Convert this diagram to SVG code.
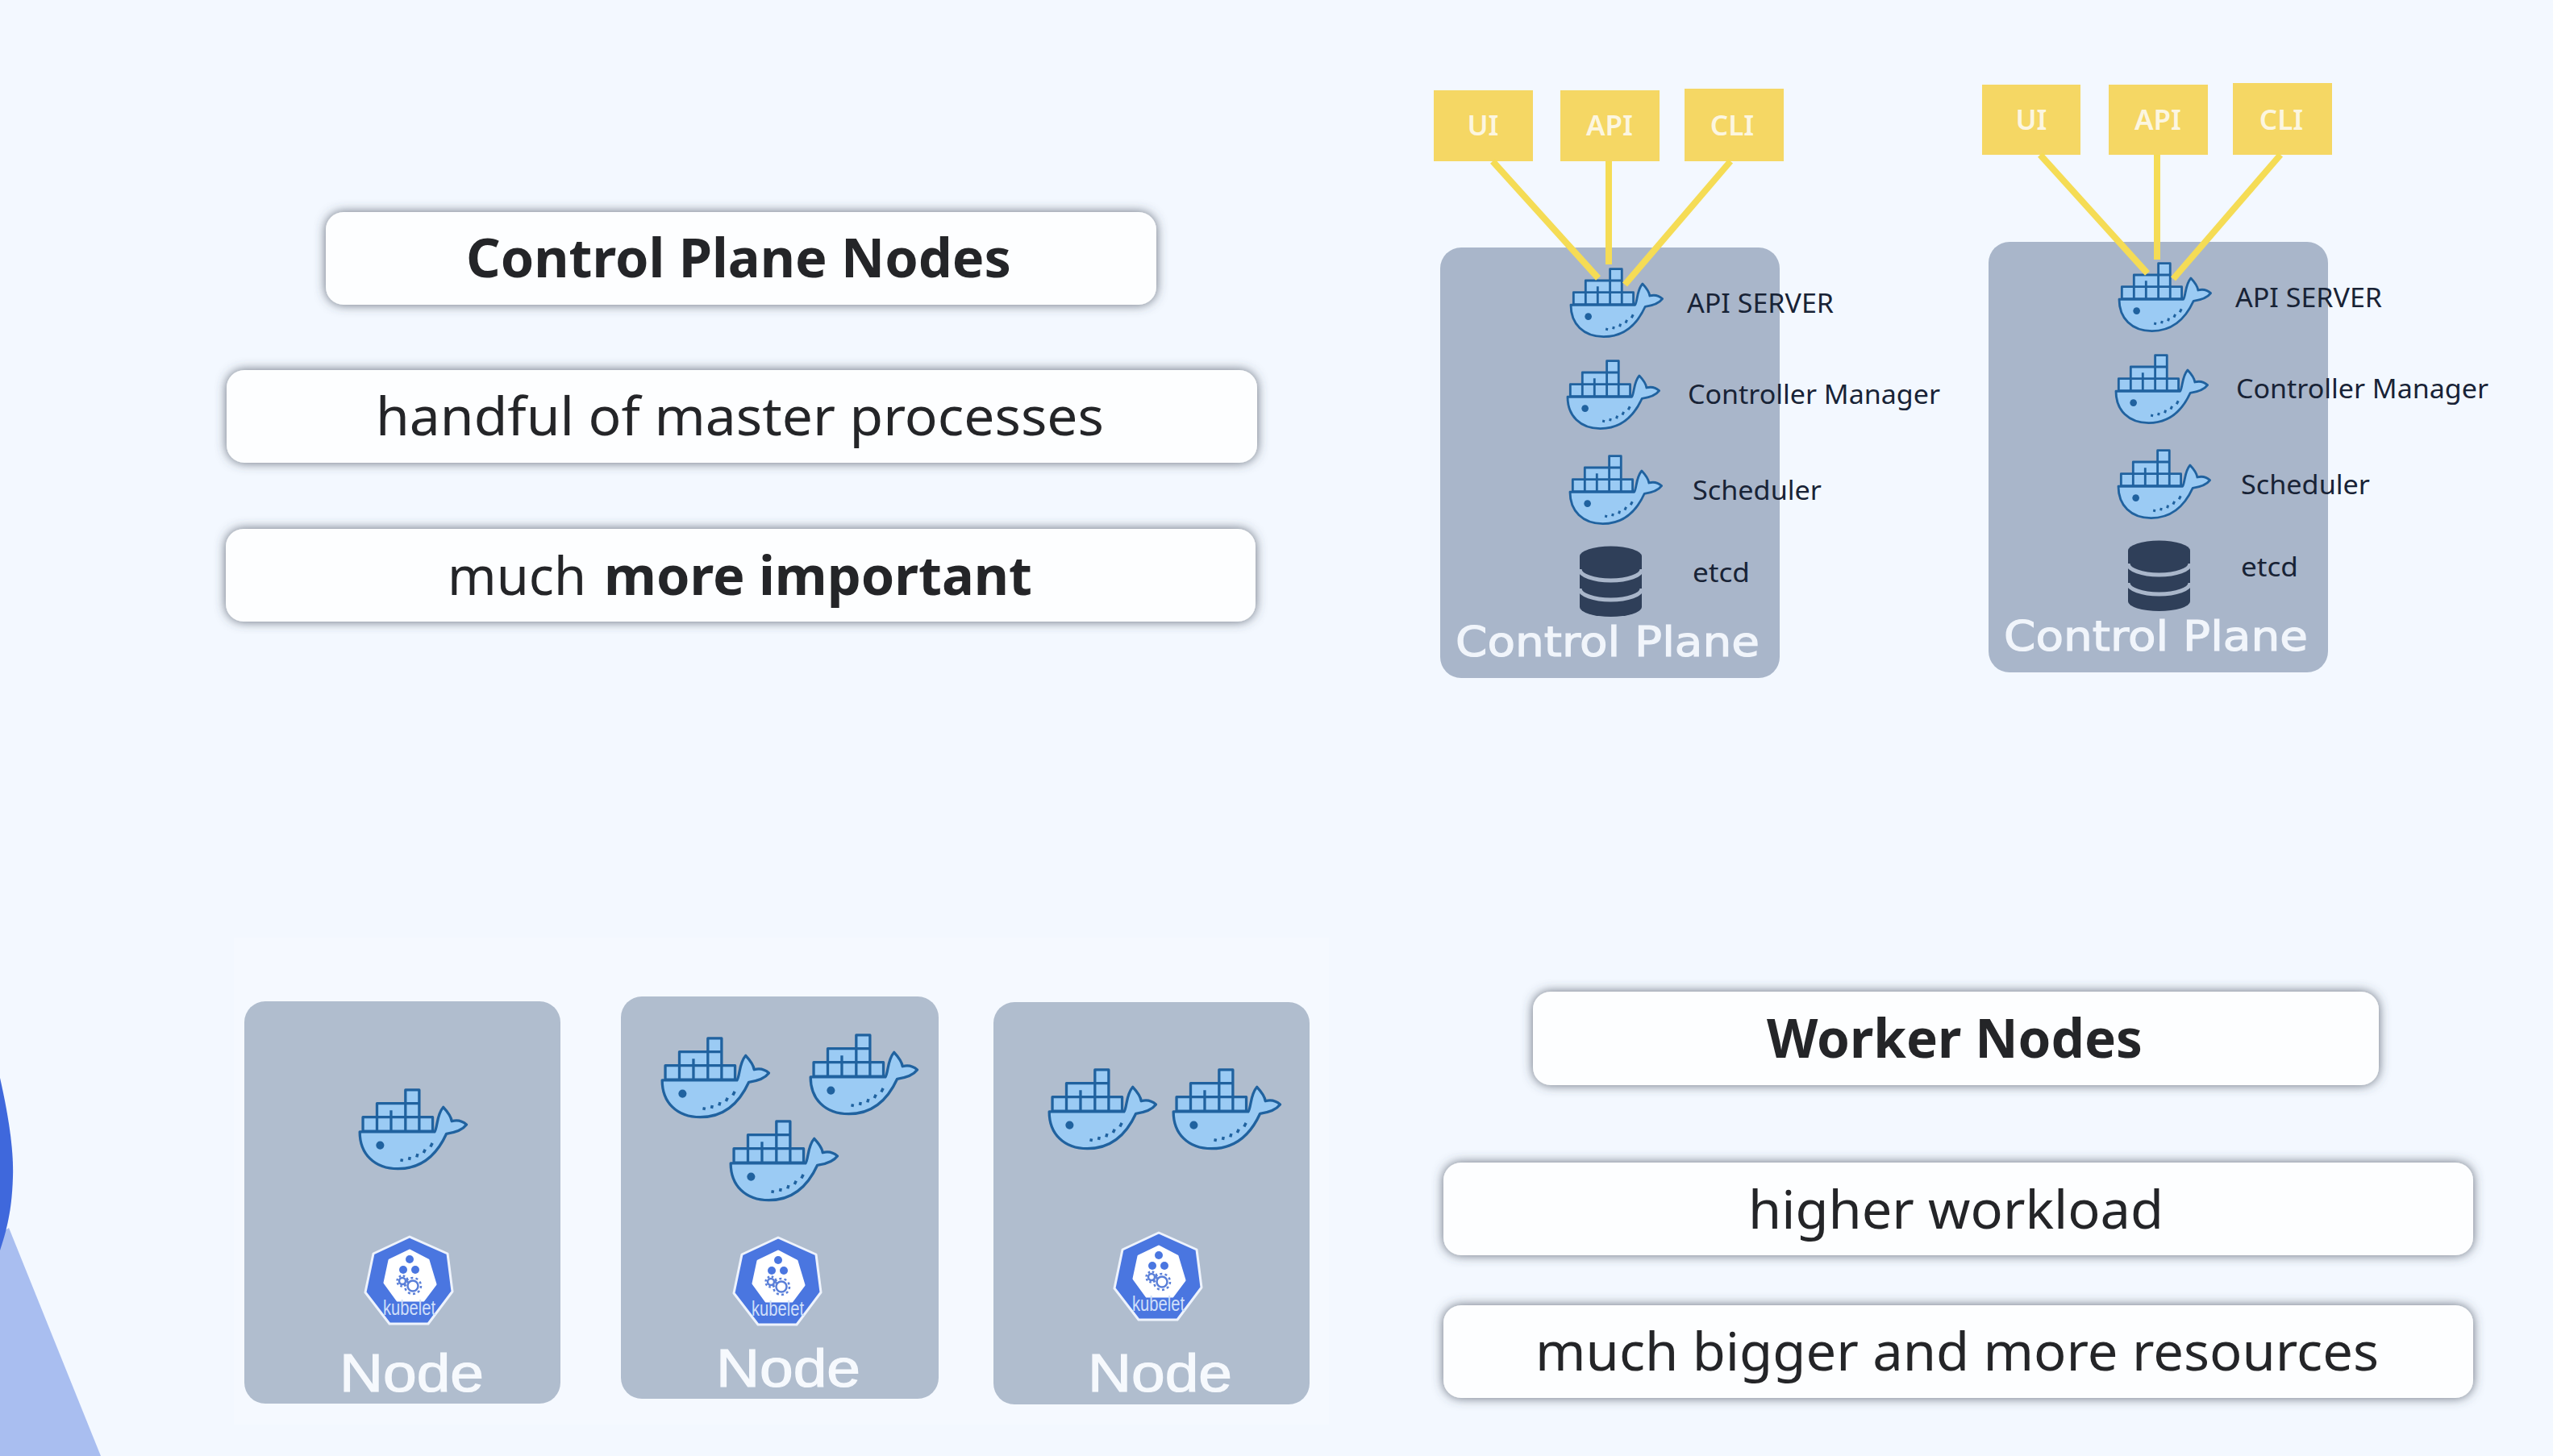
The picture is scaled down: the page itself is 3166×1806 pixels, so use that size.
<svg xmlns="http://www.w3.org/2000/svg" xmlns:xlink="http://www.w3.org/1999/xlink" width="3166" height="1806" viewBox="0 0 3166 1806">
<defs>
<style>
.box{fill:#fdfeff;filter:url(#sh)}
.t{font-family:"Noto Sans","Open Sans",sans-serif;fill:#242528;font-size:66px}
.b{font-weight:700}
.panel{fill:#a9b6ca}
.npanel{fill:#b0bdce}
.yb{fill:#f5d764}
.yt{font-family:"Noto Sans",sans-serif;font-weight:600;font-size:35px;fill:#fcf6e0;text-anchor:middle}
.lbl{font-family:"Noto Sans",sans-serif;font-size:33px;fill:#182336}
.cp{font-family:"DejaVu Sans",sans-serif;font-size:52px;fill:#f1f5fb;stroke:#f1f5fb;stroke-width:1.2}
.nd{font-family:"Liberation Sans",sans-serif;font-size:66px;fill:#f6f9fd;stroke:#f6f9fd;stroke-width:1.2}
.kt{font-family:"Liberation Sans",sans-serif;font-size:26px;fill:#cfdff9}
.c{stroke:#f5dc55;stroke-width:8;fill:none}
.wb{fill:#9bcbf4;stroke:#20629f;stroke-width:8.500;stroke-linejoin:round}
.db{fill:#2f3f59}
.gap{fill:none;stroke:#a9b6ca;stroke-width:5}
</style>
<filter id="sh" x="-5%" y="-30%" width="110%" height="160%"><feDropShadow dx="0" dy="0" stdDeviation="7" flood-color="#3f4656" flood-opacity=".8"/></filter>
<g id="whale">
<g transform="translate(-80,-65)">
<path class="wb" d="M93 157H316V202H93ZM138 113H273V157H138ZM229 70H273V113H229ZM138 157V202M183 135V202M229 113V202M273 157V202"/>
<path class="wb" d="M83 204H322C332 190 328 150 350 125C364 140 375 155 377 170C395 165 412 170 424 181C410 200 382 207 360 210C335 265 290 322 205 322C130 322 83 275 83 204Z"/>
<circle cx="148" cy="247" r="13" fill="#20629f"/>
<path d="M218 290l-2 9M243 284l-2 10M268 274l-3 11M292 260l-5 11M315 240l-6 12" stroke="#20629f" stroke-width="9" fill="none"/>
</g>
</g>
<g id="kube">
<path d="M0 0L47 21L53 68L23 108H-25L-55 69L-45 21Z" fill="#4a76e0" stroke="#eef3fc" stroke-width="3" stroke-linejoin="round"/>
<path d="M0 17L23 29L32 59L17 79H-15L-31 57L-25 29Z" fill="#fff" stroke="#fff" stroke-width="3" stroke-linejoin="round"/>
<circle cx="0" cy="28" r="5" fill="#4a76e0"/><circle cx="-8" cy="41" r="5" fill="#4a76e0"/><circle cx="7" cy="41" r="5" fill="#4a76e0"/>
<circle cx="-9" cy="55" r="4" fill="none" stroke="#5a7fd8" stroke-width="2.500"/>
<circle cx="-9" cy="55" r="6.500" fill="none" stroke="#5a7fd8" stroke-width="2.500" stroke-dasharray="2.500 2.600"/>
<circle cx="4" cy="61" r="6.500" fill="none" stroke="#5a7fd8" stroke-width="2.500"/>
<circle cx="4" cy="61" r="10" fill="none" stroke="#5a7fd8" stroke-width="2.500" stroke-dasharray="3 3.300"/>
</g>
<g id="dbi">
<path class="db" d="M0 12A38.500 12.500 0 0 1 77 12V75A38.500 12 0 0 1 0 75Z"/>
<path class="gap" d="M0 28A38.500 14 0 0 0 77 28M0 52A38.500 14 0 0 0 77 52"/>
</g>
</defs>
<rect width="3166" height="1806" fill="#f3f8ff"/>
<g id="backdrop">
<path d="M0 1530L11 1523L125 1806H0Z" fill="#a9bef0"/>
<path d="M0 1337C12 1390 17 1430 16 1460C15 1490 12 1515 0 1551Z" fill="#3f68dc"/>
<rect x="290" y="1163" width="1358" height="604" fill="#f5f9ff"/>
</g>

<g id="box-control-plane-nodes"><rect class="box" x="404" y="263" width="1030" height="115" rx="22"/>
<text class="t b" x="578" y="344" textLength="676" lengthAdjust="spacingAndGlyphs">Control Plane Nodes</text></g>
<g id="box-handful"><rect class="box" x="281" y="459" width="1278" height="115" rx="22"/>
<text class="t" x="466" y="540" textLength="903" lengthAdjust="spacingAndGlyphs">handful of master processes</text></g>
<g id="box-important"><rect class="box" x="280" y="656" width="1277" height="115" rx="22"/>
<text class="t" y="738"><tspan x="555" textLength="172" lengthAdjust="spacingAndGlyphs">much</tspan> <tspan class="b" x="749" textLength="531" lengthAdjust="spacingAndGlyphs">more important</tspan></text></g>
<g id="box-worker-nodes"><rect class="box" x="1901" y="1230" width="1049" height="116" rx="22"/>
<text class="t b" x="2191" y="1312" textLength="466" lengthAdjust="spacingAndGlyphs">Worker Nodes</text></g>
<g id="box-higher-workload"><rect class="box" x="1790" y="1442" width="1277" height="115" rx="22"/>
<text class="t" x="2168" y="1524" textLength="515" lengthAdjust="spacingAndGlyphs">higher workload</text></g>
<g id="box-bigger"><rect class="box" x="1790" y="1619" width="1277" height="115" rx="22"/>
<text class="t" x="1904" y="1700" textLength="1046" lengthAdjust="spacingAndGlyphs">much bigger and more resources</text></g>

<g id="control-plane-1">
<rect class="panel" x="1786" y="307" width="421" height="534" rx="26"/>
<use xlink:href="#whale" href="#whale" transform="translate(1947,332) scale(.333)"/>
<use xlink:href="#whale" href="#whale" transform="translate(1943,446) scale(.333)"/>
<use xlink:href="#whale" href="#whale" transform="translate(1946,564) scale(.333)"/>
<use xlink:href="#dbi" href="#dbi" transform="translate(1959,678)"/>
<text class="lbl" x="2092" y="388" textLength="182" lengthAdjust="spacingAndGlyphs">API SERVER</text>
<text class="lbl" x="2093" y="501" textLength="313" lengthAdjust="spacingAndGlyphs">Controller Manager</text>
<text class="lbl" x="2099" y="620" textLength="160" lengthAdjust="spacingAndGlyphs">Scheduler</text>
<text class="lbl" x="2099" y="722" textLength="71" lengthAdjust="spacingAndGlyphs">etcd</text>
<text class="cp" x="1805" y="814" textLength="377" lengthAdjust="spacingAndGlyphs">Control Plane</text>
</g>
<g id="ui-1"><rect class="yb" x="1778" y="112" width="123" height="88"/><text class="yt" x="1839" y="168">UI</text></g>
<g id="api-1"><rect class="yb" x="1935" y="112" width="123" height="88"/><text class="yt" x="1996" y="168">API</text></g>
<g id="cli-1"><rect class="yb" x="2089" y="110" width="123" height="90"/><text class="yt" x="2148" y="168">CLI</text></g>

<g id="control-plane-2">
<rect class="panel" x="2466" y="300" width="421" height="534" rx="26"/>
<use xlink:href="#whale" href="#whale" transform="translate(2627,325) scale(.333)"/>
<use xlink:href="#whale" href="#whale" transform="translate(2623,439) scale(.333)"/>
<use xlink:href="#whale" href="#whale" transform="translate(2626,557) scale(.333)"/>
<use xlink:href="#dbi" href="#dbi" transform="translate(2639,671)"/>
<text class="lbl" x="2772" y="381" textLength="182" lengthAdjust="spacingAndGlyphs">API SERVER</text>
<text class="lbl" x="2773" y="494" textLength="313" lengthAdjust="spacingAndGlyphs">Controller Manager</text>
<text class="lbl" x="2779" y="613" textLength="160" lengthAdjust="spacingAndGlyphs">Scheduler</text>
<text class="lbl" x="2779" y="715" textLength="71" lengthAdjust="spacingAndGlyphs">etcd</text>
<text class="cp" x="2485" y="807" textLength="377" lengthAdjust="spacingAndGlyphs">Control Plane</text>
</g>
<g id="ui-2"><rect class="yb" x="2458" y="105" width="122" height="87"/><text class="yt" x="2519" y="161">UI</text></g>
<g id="api-2"><rect class="yb" x="2615" y="105" width="123" height="87"/><text class="yt" x="2676" y="161">API</text></g>
<g id="cli-2"><rect class="yb" x="2769" y="103" width="123" height="89"/><text class="yt" x="2829" y="161">CLI</text></g>

<g id="node-1">
<rect class="npanel" x="303" y="1242" width="392" height="499" rx="26"/>
<use xlink:href="#whale" href="#whale" transform="translate(445,1350) scale(.388)"/>
<use xlink:href="#kube" href="#kube" transform="translate(508,1534)"/>
<text class="kt" x="475" y="1631" textLength="65" lengthAdjust="spacingAndGlyphs">kubelet</text>
<text class="nd" x="421" y="1726" textLength="179" lengthAdjust="spacingAndGlyphs">Node</text>
</g>
<g id="node-2">
<rect class="npanel" x="770" y="1236" width="394" height="499" rx="26"/>
<use xlink:href="#whale" href="#whale" transform="translate(820,1286) scale(.388)"/>
<use xlink:href="#whale" href="#whale" transform="translate(1004,1282) scale(.388)"/>
<use xlink:href="#whale" href="#whale" transform="translate(905,1389) scale(.388)"/>
<use xlink:href="#kube" href="#kube" transform="translate(965,1535)"/>
<text class="kt" x="932" y="1632" textLength="65" lengthAdjust="spacingAndGlyphs">kubelet</text>
<text class="nd" x="888" y="1720" textLength="179" lengthAdjust="spacingAndGlyphs">Node</text>
</g>
<g id="node-3">
<rect class="npanel" x="1232" y="1243" width="392" height="499" rx="26"/>
<use xlink:href="#whale" href="#whale" transform="translate(1300,1325) scale(.388)"/>
<use xlink:href="#whale" href="#whale" transform="translate(1454,1325) scale(.388)"/>
<use xlink:href="#kube" href="#kube" transform="translate(1437,1529)"/>
<text class="kt" x="1404" y="1626" textLength="65" lengthAdjust="spacingAndGlyphs">kubelet</text>
<text class="nd" x="1349" y="1726" textLength="179" lengthAdjust="spacingAndGlyphs">Node</text>
</g>

<g id="connectors">
<line class="c" x1="1851" y1="200" x2="1982" y2="345"/>
<line class="c" x1="1995" y1="200" x2="1995" y2="328"/>
<line class="c" x1="2146" y1="200" x2="2015" y2="353"/>
<line class="c" x1="2530" y1="192" x2="2663" y2="339"/>
<line class="c" x1="2675" y1="192" x2="2675" y2="322"/>
<line class="c" x1="2828" y1="192" x2="2695" y2="346"/>
</g>
</svg>
